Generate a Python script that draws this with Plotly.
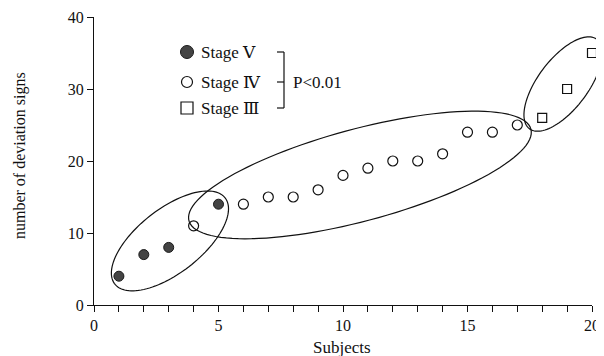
import numpy as np
import plotly.graph_objects as go

# ---- data ----
stage5_x = [1, 2, 3, 5]
stage5_y = [4, 7, 8, 14]
stage4_x = [4, 6, 7, 8, 9, 10, 11, 12, 13, 14, 15, 16, 17]
stage4_y = [11, 14, 15, 15, 16, 18, 19, 20, 20, 21, 24, 24, 25]
stage3_x = [18, 19, 20]
stage3_y = [26, 30, 35]

x_ticks = list(range(0, 21))
x_tick_labels = [str(v) if v % 5 == 0 else "" for v in x_ticks]
y_ticks = [0, 10, 20, 30, 40]

legend_labels = ["Stage Ⅴ", "Stage Ⅳ", "Stage Ⅲ"]
p_text = "P<0.01"
x_title = "Subjects"
y_title = "number of deviation signs"

# ellipse groups: centre (data units), semi-axes (px), angle (deg)
ellipse_centres = [(3.05, 8.9), (10.68, 18.06), (18.84, 30.69)]
ellipse_axes = [(70, 32), (177, 46), (56, 25)]
ellipse_angles = [38, 15, 53]

# ---- layout geometry (page body adds an 8px offset) ----
OFF = 8
W, H = 604 - OFF, 356 - OFF
ML, MT = 94 - OFF, 17 - OFF
PW, PH = 498, 288
MR, MB = W - ML - PW, H - MT - PH
XR, YR = (0, 20), (0, 40)

SERIF = "Liberation Serif, Times New Roman, DejaVu Serif, serif"

fig = go.Figure()

fig.add_trace(go.Scatter(x=stage5_x, y=stage5_y, mode="markers", cliponaxis=False,
                         marker=dict(symbol="circle", size=10, color="#444444",
                                     line=dict(color="#1a1a1a", width=1))))
fig.add_trace(go.Scatter(x=stage4_x, y=stage4_y, mode="markers", cliponaxis=False,
                         marker=dict(symbol="circle-open", size=10, color="#111111",
                                     line=dict(width=1.2))))
fig.add_trace(go.Scatter(x=stage3_x, y=stage3_y, mode="markers", cliponaxis=False,
                         marker=dict(symbol="square-open", size=9, color="#111111",
                                     line=dict(width=1.2))))

def to_paper_px(px, py):
    """reference-image pixel -> paper coords"""
    fx, fy = px - OFF, py - OFF
    return (fx - ML) / PW, (MT + PH - fy) / PH

shapes = []
t = np.linspace(0, 2 * np.pi, 120)
for (cx, cy), (a, b), ang in zip(ellipse_centres, ellipse_axes, ellipse_angles):
    cpx = OFF + ML + (cx - XR[0]) / (XR[1] - XR[0]) * PW
    cpy = OFF + MT + PH - (cy - YR[0]) / (YR[1] - YR[0]) * PH
    th = np.radians(ang)
    ex = cpx + a * np.cos(t) * np.cos(th) - b * np.sin(t) * np.sin(th)
    ey = cpy - (a * np.cos(t) * np.sin(th) + b * np.sin(t) * np.cos(th))
    pts = [to_paper_px(u, v) for u, v in zip(ex, ey)]
    path = "M " + " L ".join(f"{u:.5f},{v:.5f}" for u, v in pts) + " Z"
    shapes.append(dict(type="path", xref="paper", yref="paper", path=path,
                       line=dict(color="#111111", width=1.2)))

# legend symbols
leg_x = 187
leg_rows = [52, 82, 108]
r1, r2, s3 = 6.5, 5.5, 6
x0, y0 = to_paper_px(leg_x - r1, leg_rows[0] + r1); x1, y1 = to_paper_px(leg_x + r1, leg_rows[0] - r1)
shapes.append(dict(type="circle", xref="paper", yref="paper", x0=x0, y0=y0, x1=x1, y1=y1,
                   fillcolor="#444444", line=dict(color="#1a1a1a", width=1)))
x0, y0 = to_paper_px(leg_x - r2, leg_rows[1] + r2); x1, y1 = to_paper_px(leg_x + r2, leg_rows[1] - r2)
shapes.append(dict(type="circle", xref="paper", yref="paper", x0=x0, y0=y0, x1=x1, y1=y1,
                   line=dict(color="#111111", width=1.2)))
x0, y0 = to_paper_px(leg_x - s3, leg_rows[2] + s3); x1, y1 = to_paper_px(leg_x + s3, leg_rows[2] - s3)
shapes.append(dict(type="rect", xref="paper", yref="paper", x0=x0, y0=y0, x1=x1, y1=y1,
                   line=dict(color="#111111", width=1.2)))

# bracket
bx, bl = 284, 277
for yy in leg_rows:
    a0, b0 = to_paper_px(bl, yy); a1, b1 = to_paper_px(bx, yy)
    shapes.append(dict(type="line", xref="paper", yref="paper", x0=a0, y0=b0, x1=a1, y1=b1,
                       line=dict(color="#111111", width=1.2)))
a0, b0 = to_paper_px(bx, leg_rows[0]); a1, b1 = to_paper_px(bx, leg_rows[2])
shapes.append(dict(type="line", xref="paper", yref="paper", x0=a0, y0=b0, x1=a1, y1=b1,
                   line=dict(color="#111111", width=1.2)))

annotations = []
for lbl, yy in zip(legend_labels, leg_rows):
    ax_, ay_ = to_paper_px(199, yy)
    annotations.append(dict(text=lbl, x=ax_, y=ay_, xref="paper", yref="paper",
                            xanchor="left", yanchor="middle", showarrow=False,
                            font=dict(family=SERIF, size=17, color="#111111")))
ax_, ay_ = to_paper_px(291, leg_rows[1])
annotations.append(dict(text=p_text, x=ax_, y=ay_, xref="paper", yref="paper",
                        xanchor="left", yanchor="middle", showarrow=False,
                        font=dict(family=SERIF, size=17, color="#111111")))
# axis titles
ax_, ay_ = to_paper_px(20, 156)
annotations.append(dict(text=y_title, x=ax_, y=ay_, xref="paper", yref="paper",
                        xanchor="center", yanchor="middle", textangle=-90, showarrow=False,
                        font=dict(family=SERIF, size=16, color="#111111")))
ax_, ay_ = to_paper_px(342, 347)
annotations.append(dict(text=x_title, x=ax_, y=ay_, xref="paper", yref="paper",
                        xanchor="center", yanchor="middle", showarrow=False,
                        font=dict(family=SERIF, size=17, color="#111111")))

fig.update_layout(
    width=W, height=H,
    margin=dict(l=ML, r=MR, t=MT, b=MB, autoexpand=False),
    paper_bgcolor="white", plot_bgcolor="white",
    showlegend=False,
    shapes=shapes, annotations=annotations,
    font=dict(family=SERIF, size=16, color="#111111"),
    xaxis=dict(range=list(XR), tickvals=x_ticks, ticktext=x_tick_labels,
               ticks="outside", ticklen=6, tickwidth=1.2, tickcolor="#111111",
               showline=True, linecolor="#111111", linewidth=1.2,
               showgrid=False, zeroline=False, automargin=False,
               ticklabeloverflow="allow",
               tickfont=dict(family=SERIF, size=16)),
    yaxis=dict(range=list(YR), tickvals=y_ticks,
               ticks="outside", ticklen=6, tickwidth=1.2, tickcolor="#111111",
               showline=True, linecolor="#111111", linewidth=1.2,
               showgrid=False, zeroline=False, automargin=False,
               ticklabeloverflow="allow",
               tickfont=dict(family=SERIF, size=16)),
)

fig.write_html("out.html")
